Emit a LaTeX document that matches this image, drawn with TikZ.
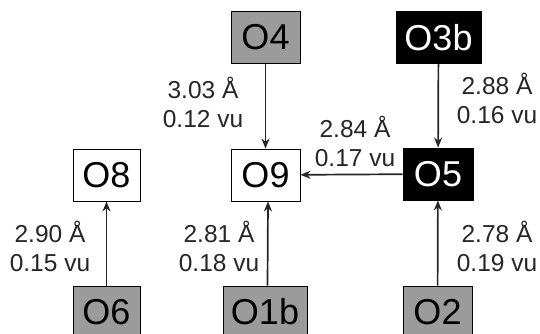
\documentclass[tikz,border=0pt]{standalone}
\usepackage{fontspec}
\setmainfont{Liberation Sans}
\usetikzlibrary{arrows.meta}
\definecolor{boxgray}{RGB}{155,155,155}
\begin{document}
\begin{tikzpicture}[x=1pt,y=1pt,
  atom/.style={draw=black, line width=0.9pt, minimum height=52pt, inner sep=0pt,
    font=\fontsize{36}{40}\selectfont},
  grayatom/.style={atom, fill=boxgray},
  blackatom/.style={atom, fill=black, text=white},
  whiteatom/.style={atom, fill=white},
  lbl/.style={align=center, inner sep=0pt, text=black!85, font=\fontsize{24.5}{28.5}\selectfont},
  hb/.style={draw=black!85, line width=1.7pt, -{Stealth[length=10pt,width=8pt]}}
]
\useasboundingbox (0,0) rectangle (540,333);
\fill[white] (0,0) rectangle (540,333);
\begin{scope}
\clip (0,0) rectangle (540,333);
\node[grayatom, minimum width=69pt] (O4) at (265.5,295.5) {O4};
\node[blackatom, minimum width=85pt] (O3b) at (438.5,295.5) {O3b};
\node[whiteatom, minimum width=67pt] (O8) at (106.5,158) {O8};
\node[whiteatom, minimum width=69pt] (O9) at (265.5,158) {O9};
\node[blackatom, minimum width=70pt] (O5) at (438,159) {O5};
\node[grayatom, minimum width=67pt] (O6) at (106.5,21) {O6};
\node[grayatom, minimum width=84pt] (O1b) at (265,21) {O1b};
\node[grayatom, minimum width=69pt] (O2) at (437.5,21) {O2};

\draw[hb] (O4) -- (O9);
\draw[hb] (O3b) -- (O5);
\draw[hb] (O5) -- (O9);
\draw[hb] (O6) -- (O8);
\draw[hb] ([xshift=2.5pt]O1b.north) -- ([xshift=2.5pt]O9.south);
\draw[hb] (O2) -- (O5);

\node[lbl] (L1) at (203,230.5) {3.03 Å\\0.12 vu};
\node[lbl] (L2) at (497,234.5) {2.88 Å\\0.16 vu};
\node[lbl] (L3) at (355,191.5) {2.84 Å\\0.17 vu};
\node[lbl] (L4) at (50,86.5) {2.90 Å\\0.15 vu};
\node[lbl] (L5) at (219,86.5) {2.81 Å\\0.18 vu};
\node[lbl] (L6) at (497,86.5) {2.78 Å\\0.19 vu};
\end{scope}
\end{tikzpicture}
\end{document}
